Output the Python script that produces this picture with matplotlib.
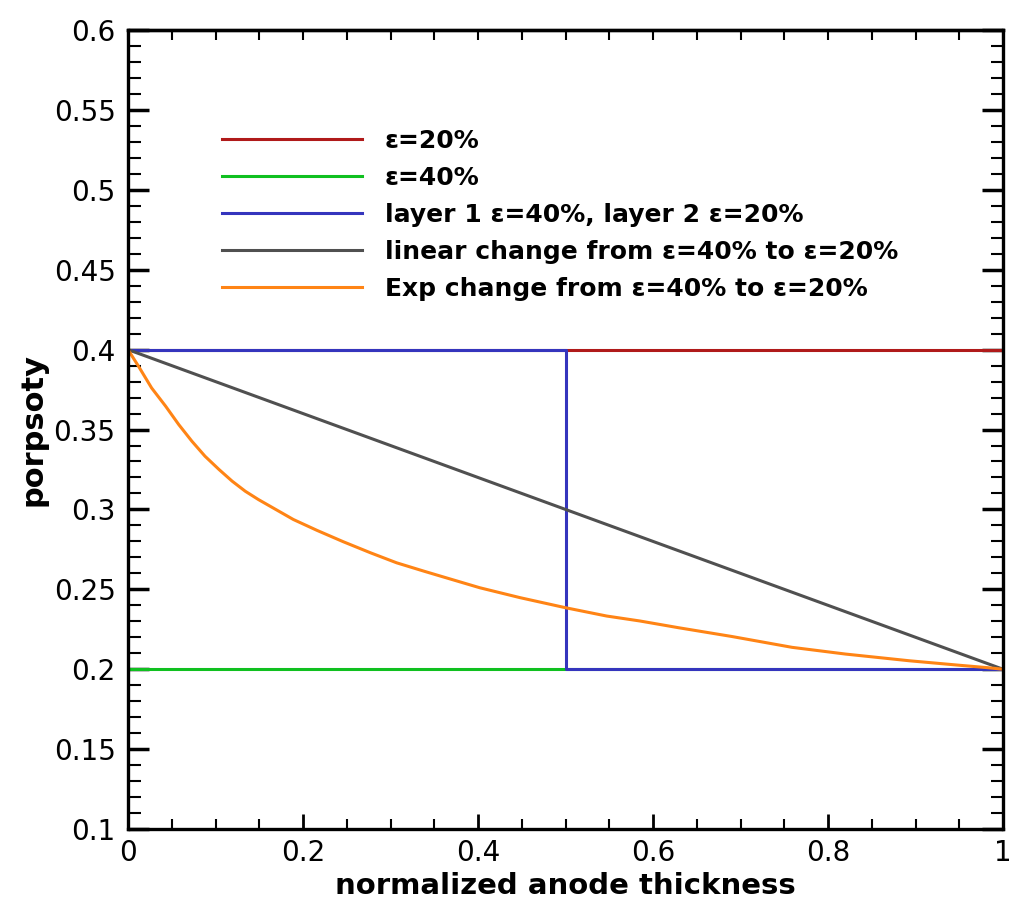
##############################################################################
# 1. modules
##############################################################################
import matplotlib

matplotlib.use("Agg")
import matplotlib.pyplot as plt
from matplotlib.ticker import MultipleLocator


##############################################################################
# 2. data
##############################################################################
OUTPUT = "out.png"

# uniform porosity cases
x_full = [0.0, 1.0]
eps_20 = [0.4, 0.4]
eps_40 = [0.2, 0.2]

# two layer case
x_layer = [0.0, 0.5, 0.5, 1.0]
eps_layer = [0.4, 0.4, 0.2, 0.2]

# linear change
x_lin = [0.0, 1.0]
eps_lin = [0.4, 0.2]

# exponential change
x_exp = [0.0, 0.012, 0.027, 0.043, 0.058, 0.073, 0.088, 0.104, 0.119, 0.134,
         0.149, 0.165, 0.189, 0.216, 0.246, 0.277, 0.307, 0.338, 0.357, 0.402,
         0.448, 0.5, 0.547, 0.585, 0.629, 0.69, 0.759, 0.82, 0.893, 0.95,
         0.982, 1.0]
eps_exp = [0.4, 0.3896, 0.376, 0.3646, 0.3531, 0.3427, 0.3333, 0.325, 0.3177,
           0.3114, 0.3062, 0.3012, 0.2937, 0.2869, 0.2798, 0.2729, 0.2666,
           0.2614, 0.2583, 0.251, 0.2448, 0.2385, 0.2333, 0.2302, 0.226,
           0.2205, 0.2137, 0.2095, 0.2053, 0.2025, 0.201, 0.2]

labels = [
    "ε=20%",
    "ε=40%",
    "layer 1 ε=40%, layer 2 ε=20%",
    "linear change from ε=40% to ε=20%",
    "Exp change from ε=40% to ε=20%",
]

x_ticks = [0, 0.2, 0.4, 0.6, 0.8, 1]
x_ticklabels = ["0", "0.2", "0.4", "0.6", "0.8", "1"]
y_ticks = [0.1, 0.15, 0.2, 0.25, 0.3, 0.35, 0.4, 0.45, 0.5, 0.55, 0.6]
y_ticklabels = ["0.1", "0.15", "0.2", "0.25", "0.3", "0.35", "0.4", "0.45",
                "0.5", "0.55", "0.6"]


##############################################################################
# 3. plot
##############################################################################
def main():
    plt.rcParams["font.family"] = ["DejaVu Sans"]

    fig = plt.figure(figsize=(10.24, 9.18), dpi=100)
    ax = fig.add_axes([0.125, 0.0969, 0.8545, 0.8704])

    lw = 2.2
    ax.plot(x_full, eps_20, color="#b01a1a", lw=lw, label=labels[0])
    ax.plot(x_full, eps_40, color="#10c020", lw=lw, label=labels[1])
    ax.plot(x_layer, eps_layer, color="#3535bd", lw=lw, label=labels[2])
    ax.plot(x_lin, eps_lin, color="#505050", lw=lw, label=labels[3])
    ax.plot(x_exp, eps_exp, color="#ff8415", lw=lw, label=labels[4])

    ax.set_xlim(0, 1)
    ax.set_ylim(0.1, 0.6)

    ax.set_xticks(x_ticks, x_ticklabels)
    ax.set_yticks(y_ticks, y_ticklabels)
    ax.xaxis.set_minor_locator(MultipleLocator(0.05))
    ax.yaxis.set_minor_locator(MultipleLocator(0.01))

    ax.tick_params(axis="x", which="major", direction="in", length=11, width=2,
                   labelsize=20, pad=7)
    ax.tick_params(axis="x", which="minor", direction="in", length=7, width=1.5)
    ax.tick_params(axis="y", which="major", direction="in", length=15, width=2.5,
                   labelsize=20, pad=9, right=True)
    ax.tick_params(axis="y", which="minor", direction="in", length=9, width=1.5,
                   right=True)

    top = ax.secondary_xaxis("top")
    top.xaxis.set_major_locator(MultipleLocator(0.05))
    top.tick_params(direction="in", length=7, width=1.5, labeltop=False)
    top.spines["top"].set_linewidth(2.4)

    for sp in ax.spines.values():
        sp.set_linewidth(2.4)

    ax.set_xlabel("normalized anode thickness", fontsize=21, fontweight="bold",
                  labelpad=4)
    ax.set_ylabel("porpsoty", fontsize=22, fontweight="bold", labelpad=4)

    ax.legend(
        frameon=False,
        loc="upper left",
        bbox_to_anchor=(0.107, 0.876),
        borderaxespad=0,
        borderpad=0,
        handlelength=5.6,
        handletextpad=0.92,
        labelspacing=0.52,
        prop={"weight": "bold", "size": 18},
    )

    fig.savefig(OUTPUT, dpi=100)


##############################################################################
# 4. run
##############################################################################
if __name__ == "__main__":
    main()
